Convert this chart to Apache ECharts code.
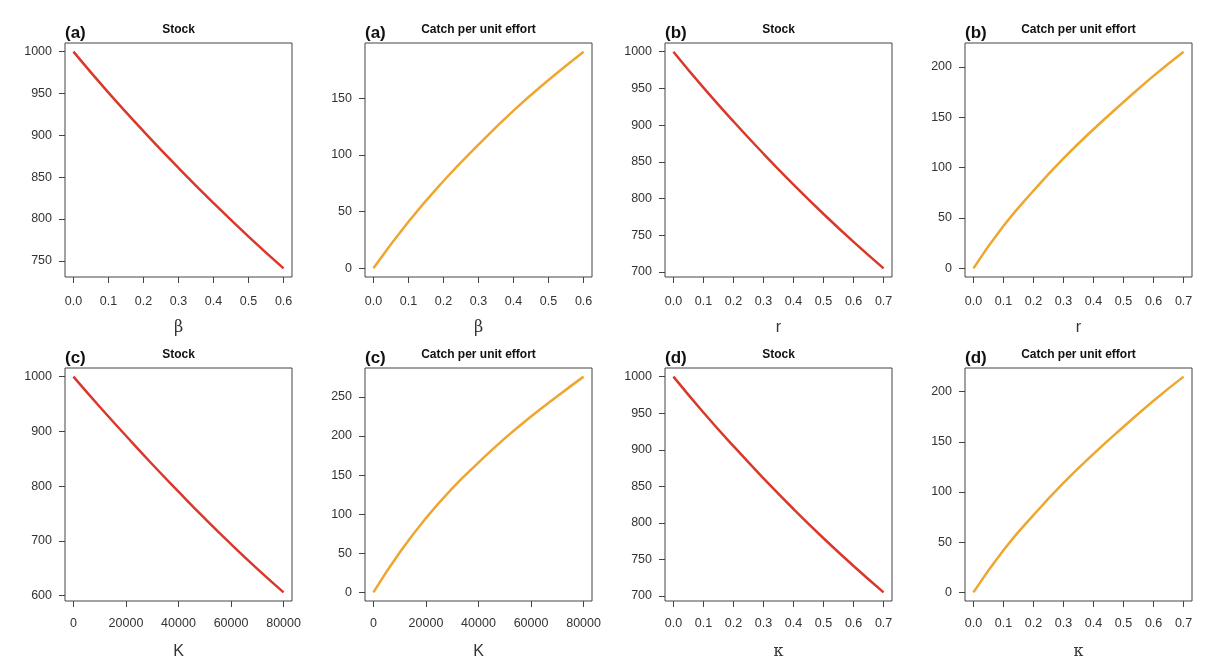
<!DOCTYPE html>
<html>
<head>
<meta charset="utf-8">
<script src="https://cdn.jsdelivr.net/npm/echarts@6/dist/echarts.min.js"></script>
<style>html,body{margin:0;padding:0;background:#fff}#c{width:1212px;height:666px}</style>
</head>
<body>
<div id="c"></div>
<script>
// ---- data ----
const betaX = [0, 0.1, 0.2, 0.3, 0.4, 0.5, 0.6];
const stockBeta = [1000, 951, 905, 861, 819, 779, 741];
const cpueBeta = [0, 41, 77, 109, 139, 166, 191];

const rX = [0, 0.1, 0.2, 0.3, 0.4, 0.5, 0.6, 0.7];
const stockR = [1000, 951, 905, 861, 819, 779, 741, 705];
const cpueR = [0, 42, 77, 109, 138, 165, 191, 215];

const KX = [0, 10000, 20000, 30000, 40000, 50000, 60000, 70000, 80000];
const stockK = [1000, 945, 892, 840, 790, 741, 694, 649, 606];
const cpueK = [0, 51, 95, 133, 166, 197, 225, 251, 276];

const kappaX = [0, 0.1, 0.2, 0.3, 0.4, 0.5, 0.6, 0.7];
const stockKappa = [1000, 951, 905, 861, 819, 779, 741, 705];
const cpueKappa = [0, 42, 77, 109, 138, 165, 191, 215];

// tick labels
const xTicksBeta = [0, 0.1, 0.2, 0.3, 0.4, 0.5, 0.6];
const xTicksR = [0, 0.1, 0.2, 0.3, 0.4, 0.5, 0.6, 0.7];
const xTicksK = [0, 20000, 40000, 60000, 80000];
const yTicksStock50a = [750, 800, 850, 900, 950, 1000];
const yTicksStock50b = [700, 750, 800, 850, 900, 950, 1000];
const yTicksStock100 = [600, 700, 800, 900, 1000];
const yTicksCpue150 = [0, 50, 100, 150];
const yTicksCpue200 = [0, 50, 100, 150, 200];
const yTicksCpue250 = [0, 50, 100, 150, 200, 250];

const panelTags = ['(a)', '(a)', '(b)', '(b)', '(c)', '(c)', '(d)', '(d)'];
const panelTitles = ['Stock', 'Catch per unit effort', 'Stock', 'Catch per unit effort',
                     'Stock', 'Catch per unit effort', 'Stock', 'Catch per unit effort'];
const axisNames = ['β', 'β', 'r', 'r', 'K', 'K', 'κ', 'κ'];

// ---- layout/style ----
const RED = '#d9382a', ORANGE = '#eea62e';
const lefts = [65, 365, 665, 965], W = 227;
const tops = [43, 368], Hs = [234, 233];

const panels = [
  {x: betaX, y: stockBeta, xt: xTicksBeta, yt: yTicksStock50a, c: RED, dec: true},
  {x: betaX, y: cpueBeta, xt: xTicksBeta, yt: yTicksCpue150, c: ORANGE, dec: true},
  {x: rX, y: stockR, xt: xTicksR, yt: yTicksStock50b, c: RED, dec: true},
  {x: rX, y: cpueR, xt: xTicksR, yt: yTicksCpue200, c: ORANGE, dec: true},
  {x: KX, y: stockK, xt: xTicksK, yt: yTicksStock100, c: RED, dec: false},
  {x: KX, y: cpueK, xt: xTicksK, yt: yTicksCpue250, c: ORANGE, dec: false},
  {x: kappaX, y: stockKappa, xt: xTicksR, yt: yTicksStock50b, c: RED, dec: true},
  {x: kappaX, y: cpueKappa, xt: xTicksR, yt: yTicksCpue200, c: ORANGE, dec: true}
];

const FONT = '"Liberation Sans", Arial, Helvetica, sans-serif';
const grids = [], xAxes = [], yAxes = [], series = [], graphics = [];

panels.forEach((p, i) => {
  const col = i % 4, row = Math.floor(i / 4);
  const left = lefts[col], top = tops[row], h = Hs[row];
  grids.push({left: left, top: top, width: W, height: h, show: true,
    borderColor: '#444', borderWidth: 1, backgroundColor: 'transparent', containLabel: false});
  const xmin = Math.min(...p.x), xmax = Math.max(...p.x);
  const ymin = Math.min(...p.y), ymax = Math.max(...p.y);
  const dx = (xmax - xmin) * 0.04, dy = (ymax - ymin) * 0.04;
  const serif = (axisNames[i] === 'β' || axisNames[i] === 'κ');
  xAxes.push({
    type: 'value', gridIndex: i, min: xmin - dx, max: xmax + dx, position: 'bottom',
    axisLine: {show: false, onZero: false},
    splitLine: {show: false},
    axisTick: {show: true, inside: false, length: 6, lineStyle: {color: '#444', width: 1}, customValues: p.xt},
    axisLabel: {show: true, margin: row === 0 ? 18 : 16, color: '#333', fontSize: 12.5, fontFamily: FONT,
      customValues: p.xt,
      formatter: v => p.dec ? Number(v).toFixed(1) : String(Math.round(v))},
    name: axisNames[i], nameLocation: 'middle', nameGap: row === 0 ? 43 : 43,
    nameTextStyle: {color: '#333', fontSize: 16,
      fontFamily: serif ? '"DejaVu Serif", "Liberation Serif", serif' : FONT}
  });
  yAxes.push({
    type: 'value', gridIndex: i, min: ymin - dy, max: ymax + dy, position: 'left',
    axisLine: {show: false, onZero: false},
    splitLine: {show: false},
    axisTick: {show: true, inside: false, length: 6, lineStyle: {color: '#444', width: 1}, customValues: p.yt},
    axisLabel: {show: true, margin: 13, color: '#333', fontSize: 12.5, fontFamily: FONT,
      customValues: p.yt, formatter: v => String(Math.round(v))}
  });
  series.push({
    type: 'line', xAxisIndex: i, yAxisIndex: i,
    data: p.x.map((xv, k) => [xv, p.y[k]]),
    smooth: true, showSymbol: false, symbol: 'none',
    lineStyle: {color: p.c, width: 2.5}, silent: true, animation: false
  });
  graphics.push({type: 'text', x: left, y: top - 1,
    style: {text: panelTags[i], fill: '#111', font: 'bold 17px ' + FONT, textAlign: 'left', textVerticalAlign: 'bottom'}});
  graphics.push({type: 'text', x: left + W / 2, y: top - 7,
    style: {text: panelTitles[i], fill: '#111', font: 'bold 12px ' + FONT, textAlign: 'center', textVerticalAlign: 'bottom'}});
});

const chart = echarts.init(document.getElementById('c'), null, {renderer: 'canvas'});
chart.setOption({
  backgroundColor: '#fff',
  animation: false,
  grid: grids, xAxis: xAxes, yAxis: yAxes, series: series,
  graphic: graphics
});
</script>
</body>
</html>
